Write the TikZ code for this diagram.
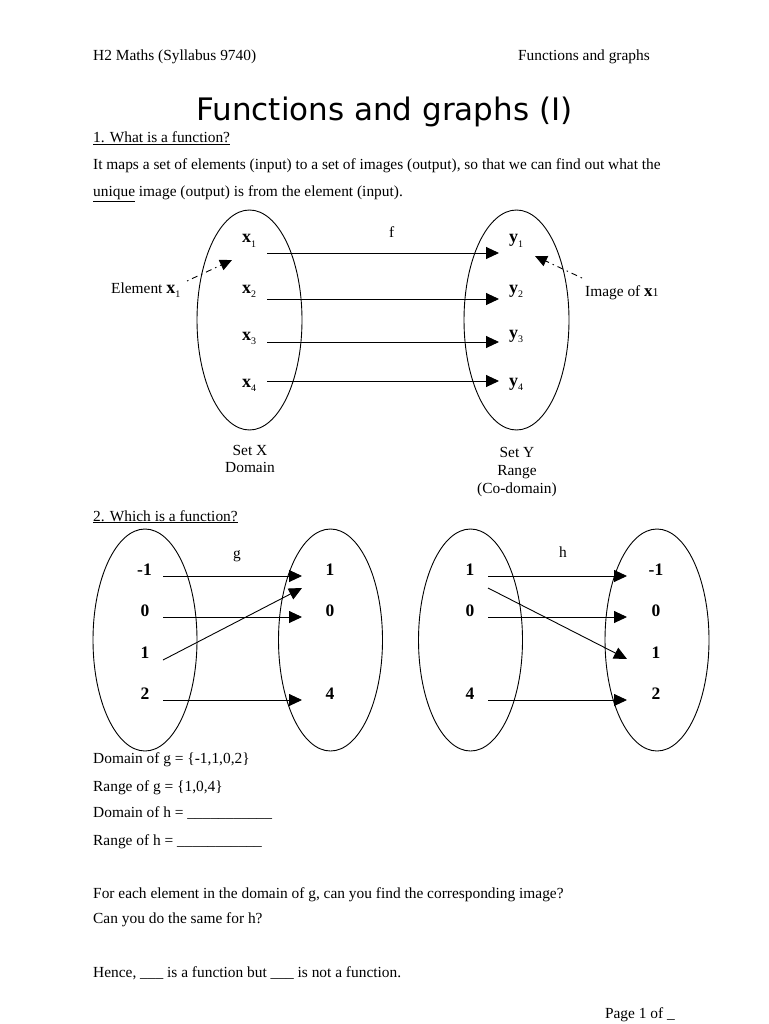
\documentclass[tikz,border=0pt]{standalone}
\usepackage{fontspec}
\setmainfont{Liberation Serif}
\newfontfamily\titlefont{DejaVu Sans}
\usetikzlibrary{arrows.meta,shapes.geometric}
\newcommand\lowsub[1]{\raisebox{-4.5pt}{\fontsize{10}{12}\selectfont #1}}
\begin{document}
\begin{tikzpicture}[x=1pt,y=-1pt,
  txt/.style={inner sep=0pt, anchor=base west, font=\fontsize{15.4}{18}\selectfont},
  ctxt/.style={txt, anchor=base},
  lbl/.style={inner sep=0pt, anchor=base west, font=\fontsize{18}{20}\selectfont},
  num/.style={inner sep=0pt, anchor=base, font=\fontsize{17.5}{20}\selectfont\bfseries},
  setell/.style={draw, ellipse, line width=0.9pt, inner sep=0pt},
  set1/.style={setell, minimum width=105pt, minimum height=220pt},
  set2/.style={setell, minimum width=104pt, minimum height=222pt},
  map/.style={line width=0.9pt, -{Triangle[length=13pt,width=12pt]}},
  pointer/.style={line width=0.9pt, dash pattern=on 1.5pt off 4pt on 6pt off 4pt, -{Triangle[length=12pt,width=11pt]}}]
\useasboundingbox (0,0) rectangle (768,1024);
\fill[white] (0,0) rectangle (768,1024);
% header
\node[txt] (hdrL) at (93,61) {H2 Maths (Syllabus 9740)};
\node[txt, anchor=base east] (hdrR) at (650,61) {Functions and graphs};
\node[inner sep=0pt, anchor=base, font=\titlefont\fontsize{31}{36}\selectfont] (title) at (384.5,121) {Functions and graphs (I)};
\node[txt] (s1) at (93,143) {\underline{1. What is a function?}};
\node[txt] (p1) at (93,170) {It maps a set of elements (input) to a set of images (output), so that we can find out what the};
\node[txt] (p2) at (93,197) {\underline{unique} image (output) is from the element (input).};
% diagram 1
\node[set1] (SX) at (249.5,320) {};
\node[set1] (SY) at (516.5,320) {};
\node[lbl] (x1) at (242,243) {\textbf{x}\lowsub{1}};
\node[lbl] (x2) at (242,293) {\textbf{x}\lowsub{2}};
\node[lbl] (x3) at (242,340) {\textbf{x}\lowsub{3}};
\node[lbl] (x4) at (242,387) {\textbf{x}\lowsub{4}};
\node[lbl] (y1) at (509,243) {\textbf{y}\lowsub{1}};
\node[lbl] (y2) at (509,293) {\textbf{y}\lowsub{2}};
\node[lbl] (y3) at (509,338) {\textbf{y}\lowsub{3}};
\node[lbl] (y4) at (509,386) {\textbf{y}\lowsub{4}};
\node[txt] (f) at (389,237) {f};
\coordinate (a1) at (267,253); \coordinate (b1) at (499,253);
\coordinate (a2) at (267,299); \coordinate (b2) at (499,299);
\coordinate (a3) at (267,342); \coordinate (b3) at (499,342);
\coordinate (a4) at (267,381); \coordinate (b4) at (499,381);
\draw[map] (a1) -- (b1);
\draw[map] (a2) -- (b2);
\draw[map] (a3) -- (b3);
\draw[map] (a4) -- (b4);
\node[txt] (elt) at (111,293) {Element {\fontsize{18}{20}\selectfont\textbf{x}}\lowsub{1}};
\coordinate (eltS) at (187,281); \coordinate (eltT) at (232,260);
\draw[pointer] (eltS) -- (eltT);
\node[txt] (img) at (585,296) {Image of {\fontsize{17}{20}\selectfont\textbf{x}}{\fontsize{12}{14}\selectfont 1}};
\coordinate (imgS) at (582,278); \coordinate (imgT) at (535,256);
\draw[pointer] (imgS) -- (imgT);
\node[ctxt] (setx) at (250,455) {Set X};
\node[ctxt] (domx) at (250,472) {Domain};
\node[ctxt] (sety) at (517,457) {Set Y};
\node[ctxt] (rngy) at (517,475) {Range};
\node[ctxt] (cody) at (517,493) {(Co-domain)};
% section 2
\node[txt] (s2) at (93,521) {\underline{2. Which is a function?}};
\node[set2] (GA) at (145,640) {};
\node[set2] (GB) at (330.5,640) {};
\node[set2] (HA) at (470.5,640) {};
\node[set2] (HB) at (657,640) {};
\node[ctxt] (g) at (237,558) {g};
\node[ctxt] (h) at (563,557) {h};
\node[num] (ga1) at (144.5,575) {-1};
\node[num] (ga2) at (145,616) {0};
\node[num] (ga3) at (145,658) {1};
\node[num] (ga4) at (145,699) {2};
\node[num] (gb1) at (330,575) {1};
\node[num] (gb2) at (330,616) {0};
\node[num] (gb3) at (330,699) {4};
\node[num] (ha1) at (470,575) {1};
\node[num] (ha2) at (470,616) {0};
\node[num] (ha3) at (470,699) {4};
\node[num] (hb1) at (656,575) {-1};
\node[num] (hb2) at (656,616) {0};
\node[num] (hb3) at (656,658) {1};
\node[num] (hb4) at (656,699) {2};
\coordinate (ga1s) at (163,576); \coordinate (gb1e) at (302,576);
\coordinate (ga2s) at (163,617); \coordinate (gb2e) at (302,617);
\coordinate (ga3s) at (163,660); \coordinate (gb1f) at (302,588);
\coordinate (ga4s) at (163,700); \coordinate (gb3e) at (302,700);
\draw[map] (ga1s) -- (gb1e);
\draw[map] (ga2s) -- (gb2e);
\draw[map] (ga3s) -- (gb1f);
\draw[map] (ga4s) -- (gb3e);
\coordinate (ha1s) at (488,576); \coordinate (hb1e) at (627,576);
\coordinate (ha2s) at (488,617); \coordinate (hb2e) at (627,617);
\coordinate (ha1t) at (488,588); \coordinate (hb3e) at (627,659);
\coordinate (ha3s) at (488,700); \coordinate (hb4e) at (627,700);
\draw[map] (ha1s) -- (hb1e);
\draw[map] (ha2s) -- (hb2e);
\draw[map] (ha1t) -- (hb3e);
\draw[map] (ha3s) -- (hb4e);
% bottom text
\node[txt] (dg) at (93,763) {Domain of g = \{-1,1,0,2\}};
\node[txt] (rg) at (93,791) {Range of g = \{1,0,4\}};
\node[txt] (dh) at (93,817) {Domain of h = \_\_\_\_\_\_\_\_\_\_\_};
\node[txt] (rh) at (93,845) {Range of h = \_\_\_\_\_\_\_\_\_\_\_};
\node[txt] (q1) at (93,898) {For each element in the domain of g, can you find the corresponding image?};
\node[txt] (q2) at (93,923) {Can you do the same for h?};
\node[txt] (q3) at (93,977) {Hence, \_\_\_ is a function but \_\_\_ is not a function.};
\node[txt, anchor=base east] (page) at (675,1018) {Page 1 of \_};
\end{tikzpicture}
\end{document}
